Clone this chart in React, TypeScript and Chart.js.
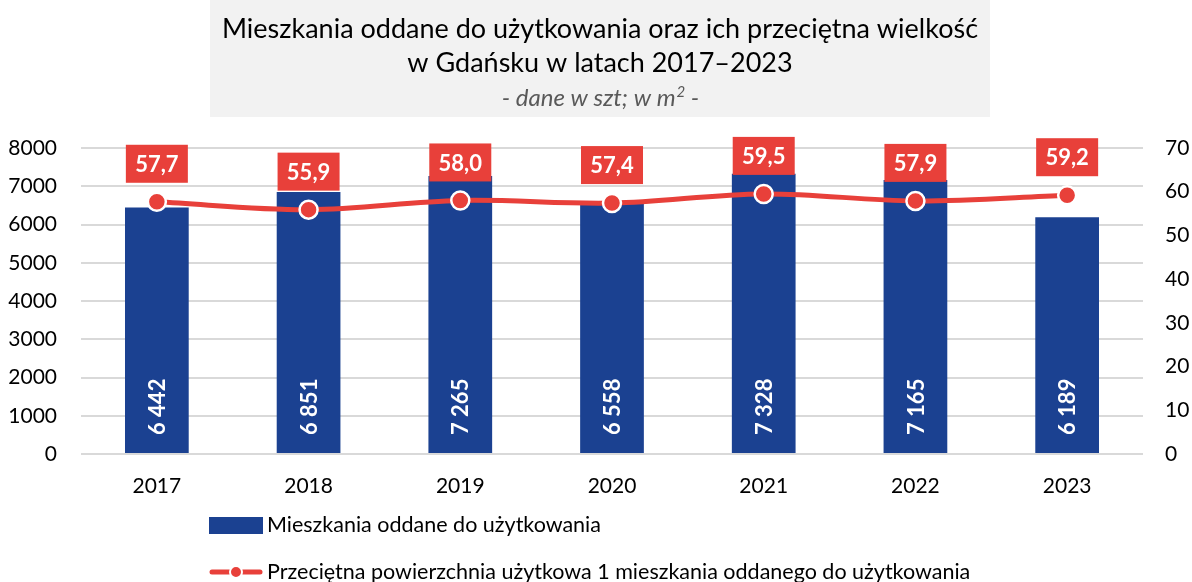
import React, { useEffect, useRef } from "react";
import { Chart, registerables } from "chart.js";

Chart.register(...registerables);

const years = ["2017", "2018", "2019", "2020", "2021", "2022", "2023"];
const dwellings = [6442, 6851, 7265, 6558, 7328, 7165, 6189];
const avgArea = [57.7, 55.9, 58.0, 57.4, 59.5, 57.9, 59.2];

const titleLines = [
  "Mieszkania oddane do użytkowania oraz ich przeciętna wielkość",
  "w Gdańsku w latach 2017–2023",
];
const subtitleParts = ["- dane w szt; w m", "2", " -"];
const barLabel = "Mieszkania oddane do użytkowania";
const lineLabel = "Przeciętna powierzchnia użytkowa 1 mieszkania oddanego do użytkowania";

const BLUE = "#1B4191";
const RED = "#E8403A";
const FONT = "Lato";

const fmtThousands = (v: number) => {
  const s = String(v);
  return s.length > 3 ? s.slice(0, s.length - 3) + " " + s.slice(-3) : s;
};
const fmtComma = (v: number) => v.toFixed(1).replace(".", ",");

const decor = {
  id: "decor",
  beforeDraw(chart: any) {
    const ctx = chart.ctx;
    ctx.save();
    ctx.fillStyle = "#ffffff";
    ctx.fillRect(0, 0, chart.width, chart.height);
    ctx.fillStyle = "#F2F2F2";
    ctx.fillRect(210, 0, 780, 117);
    ctx.fillStyle = "#000000";
    ctx.textAlign = "center";
    ctx.textBaseline = "middle";
    ctx.font = `27px ${FONT}`;
    ctx.fillText(titleLines[0], 600, 29);
    ctx.fillText(titleLines[1], 600, 63);
    // subtitle with superscript
    ctx.fillStyle = "#595959";
    const big = `italic 24px ${FONT}`;
    const small = `italic 15px ${FONT}`;
    ctx.font = big;
    const w0 = ctx.measureText(subtitleParts[0]).width;
    const w2 = ctx.measureText(subtitleParts[2]).width;
    ctx.font = small;
    const w1 = ctx.measureText(subtitleParts[1]).width;
    let x = 600 - (w0 + w1 + w2) / 2;
    ctx.textAlign = "left";
    ctx.textBaseline = "alphabetic";
    const base = 106;
    ctx.font = big;
    ctx.fillText(subtitleParts[0], x, base);
    x += w0 + 1;
    ctx.font = small;
    ctx.fillText(subtitleParts[1], x, base - 9);
    x += w1;
    ctx.font = big;
    ctx.fillText(subtitleParts[2], x, base);
    ctx.restore();
  },
  afterDatasetsDraw(chart: any) {
    const ctx = chart.ctx;
    ctx.save();
    const barMeta = chart.getDatasetMeta(1);
    ctx.fillStyle = "#ffffff";
    ctx.font = `bold 22px ${FONT}`;
    ctx.textBaseline = "middle";
    ctx.textAlign = "left";
    barMeta.data.forEach((el: any, i: number) => {
      ctx.save();
      ctx.translate(el.x, el.base - 18);
      ctx.rotate(-Math.PI / 2);
      ctx.fillText(fmtThousands(dwellings[i]), 0, 1);
      ctx.restore();
    });
    const lineMeta = chart.getDatasetMeta(0);
    ctx.textAlign = "center";
    lineMeta.data.forEach((el: any, i: number) => {
      const w = 62;
      const h = 38;
      const bottom = el.y - 19;
      ctx.fillStyle = RED;
      ctx.fillRect(el.x - w / 2, bottom - h, w, h);
      ctx.fillStyle = "#ffffff";
      ctx.fillText(fmtComma(avgArea[i]), el.x, bottom - h / 2 + 1);
    });
    ctx.restore();
  },
  afterDraw(chart: any) {
    const ctx = chart.ctx;
    ctx.save();
    ctx.fillStyle = BLUE;
    ctx.fillRect(209, 517, 54, 17);
    ctx.strokeStyle = RED;
    ctx.lineWidth = 5;
    ctx.lineCap = "round";
    ctx.beginPath();
    ctx.moveTo(212, 572);
    ctx.lineTo(260, 572);
    ctx.stroke();
    ctx.beginPath();
    ctx.arc(236, 572, 6, 0, Math.PI * 2);
    ctx.fillStyle = RED;
    ctx.fill();
    ctx.lineWidth = 2;
    ctx.strokeStyle = "#ffffff";
    ctx.stroke();
    ctx.fillStyle = "#000000";
    ctx.font = `21.5px ${FONT}`;
    ctx.textAlign = "left";
    ctx.textBaseline = "middle";
    ctx.fillText(barLabel, 267, 525);
    ctx.fillText(lineLabel, 267, 572);
    ctx.restore();
  },
};

export default function App() {
  const ref = useRef<HTMLCanvasElement | null>(null);
  useEffect(() => {
    if (!ref.current) return;
    const tickFont = { family: FONT, size: 21 };
    const chart = new Chart(ref.current, {
      type: "bar",
      data: {
        labels: years,
        datasets: [
          {
            type: "line",
            label: lineLabel,
            data: avgArea,
            yAxisID: "y1",
            borderColor: RED,
            backgroundColor: RED,
            borderWidth: 5,
            tension: 0.35,
            pointRadius: 9,
            pointBorderWidth: 2.5,
            pointBorderColor: "#ffffff",
            pointBackgroundColor: RED,
            order: 0,
          } as any,
          {
            type: "bar",
            label: barLabel,
            data: dwellings,
            yAxisID: "y",
            backgroundColor: BLUE,
            barPercentage: 1,
            categoryPercentage: 0.42,
            order: 1,
          },
        ],
      },
      options: {
        responsive: false,
        animation: false,
        layout: { padding: { top: 148, left: 0, right: 0, bottom: 0 } },
        plugins: {
          legend: { display: false },
          title: { display: false },
          tooltip: { enabled: false },
        },
        scales: {
          x: {
            grid: { display: false, drawTicks: false },
            border: { display: false },
            ticks: { font: tickFont, color: "#000", padding: 20 },
            afterFit: (s: any) => {
              s.height = 128;
            },
          },
          y: {
            position: "left",
            min: 0,
            max: 8000,
            ticks: {
              stepSize: 1000,
              font: tickFont,
              color: "#000",
              padding: 24,
              callback: (v: any) => String(v),
            },
            grid: { color: "#D9D9D9", lineWidth: 2, drawTicks: false },
            border: { display: false },
            afterFit: (s: any) => {
              s.width = 81;
            },
          },
          y1: {
            position: "right",
            min: 0,
            max: 70,
            ticks: {
              stepSize: 10,
              font: tickFont,
              color: "#000",
              padding: 22,
              callback: (v: any) => String(v),
            },
            grid: { display: false, drawTicks: false },
            border: { display: false },
            afterFit: (s: any) => {
              s.width = 49;
            },
          },
        },
      },
      plugins: [decor],
    });
    return () => chart.destroy();
  }, []);
  return (
    <div style={{ position: "absolute", left: 0, top: 0, width: 1192, height: 582 }}>
      <canvas ref={ref} width={1192} height={582} style={{ display: "block" }} />
    </div>
  );
}
